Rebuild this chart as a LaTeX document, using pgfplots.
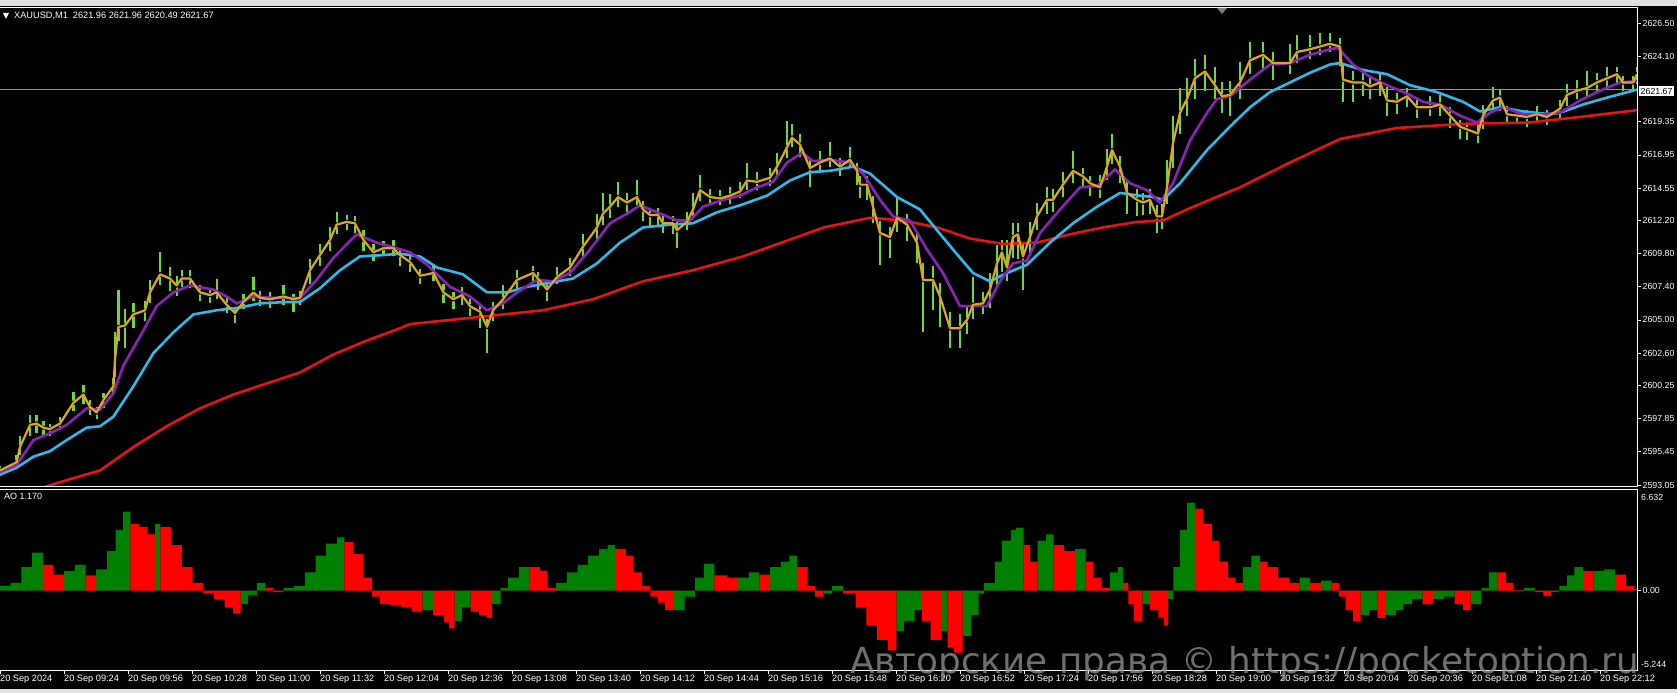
\documentclass[border=0pt]{standalone}
\usepackage{fontspec}
\setmainfont{Liberation Sans}
\newfontfamily\wmfont{DejaVu Sans}
\usepackage{pgfplots}
\usepackage{pgfplotstable}
\pgfplotsset{compat=1.18}

\definecolor{bargreen}{RGB}{110,215,60}
\definecolor{ylw}{RGB}{225,165,30}
\definecolor{vio}{RGB}{140,35,185}
\definecolor{sky}{RGB}{50,185,235}
\definecolor{rd}{RGB}{230,20,20}
\definecolor{aog}{RGB}{0,128,0}
\definecolor{aor}{RGB}{255,0,0}
\definecolor{lgray}{RGB}{225,225,225}
\definecolor{hline}{RGB}{150,150,150}
\definecolor{wmark}{RGB}{150,150,150}

% price bars: minute, close line, high offset, low offset
\pgfplotstableread{
m c u d
0 2594.1 0.3 0.4
8.3 2594.7 0.5 0.4
10 2595.8 0.8 0.6
15 2597.4 0.7 0.8
18.3 2597.5 0.6 0.7
21.7 2597.2 0.5 0.6
25 2597.1 0.4 0.5
30 2597.5 0.5 0.5
36.7 2599.0 0.8 0.6
41.7 2599.6 0.7 0.7
45 2598.7 0.5 0.6
48.3 2598.3 0.4 0.5
51.7 2599.2 0.5 0.6
56.7 2600.2 0.6 0.5
57.5 2602.1 2.0 1.2
59.2 2604.5 2.7 1.0
62.5 2604.6 1.2 1.6
66.7 2605.4 0.8 1.0
72.5 2605.7 0.7 0.8
75 2607.0 0.9 0.8
80 2608.3 1.6 0.8
85 2608.0 0.8 0.9
88.3 2607.5 0.7 0.8
90.8 2608.0 0.6 0.6
95 2608.0 0.6 0.7
100 2607.0 0.5 0.6
105 2606.8 0.4 0.6
108.3 2607.0 1.0 0.5
113.3 2606.1 0.5 0.6
117.5 2605.5 0.4 0.7
121.7 2606.3 0.6 0.5
126.7 2607.0 1.1 0.6
130 2606.6 0.5 0.6
135 2606.5 0.5 0.6
141.7 2606.7 0.8 0.6
146.7 2606.5 0.4 0.9
150 2606.6 0.5 0.5
155 2608.6 0.8 1.0
160 2609.7 0.8 0.8
165 2610.8 0.9 0.8
168.3 2611.9 0.9 0.7
173.3 2612.1 0.5 0.6
177.5 2612.0 0.5 0.7
181.7 2610.8 0.7 0.8
186.7 2609.9 0.6 0.6
191.7 2610.2 0.5 0.6
196.7 2610.2 0.6 0.6
200 2609.7 0.5 0.8
205 2609.2 0.5 0.7
210 2608.2 0.5 0.6
216.7 2608.4 0.6 0.6
221.7 2607.0 0.6 0.8
226.7 2606.5 0.5 0.7
231 2606.8 0.6 0.7
235 2606.0 0.5 0.7
240 2605.6 0.5 1.2
243.5 2604.5 0.6 1.9
246.5 2605.7 0.6 0.8
251.5 2606.5 1.0 0.7
258.5 2607.9 0.7 0.7
266.5 2608.4 0.5 0.6
269 2608.0 0.5 0.8
273.5 2607.2 0.5 0.8
278.5 2608.1 0.7 0.5
285 2608.8 0.7 0.6
291.5 2610.3 0.9 0.8
298.5 2611.7 1.0 0.9
301.5 2612.7 1.5 0.8
305 2613.2 0.9 0.8
309 2613.9 1.1 0.7
313.5 2613.5 0.7 0.7
318.5 2613.9 1.2 0.6
321.5 2613.0 0.6 0.8
325 2612.6 0.5 0.9
329 2612.6 0.5 0.7
331.5 2612.0 0.5 0.7
336.5 2612.0 0.5 0.8
338.5 2611.5 0.6 1.3
343.5 2612.1 0.7 0.6
346.5 2613.0 1.2 0.6
350 2614.4 1.1 0.8
355 2613.9 0.6 0.6
360 2613.8 0.6 0.5
365 2614.0 0.6 0.6
370 2614.3 0.7 0.5
373.5 2615.1 1.3 0.7
378.5 2615.0 0.7 0.6
385 2615.3 0.7 0.6
388.5 2616.1 1.0 0.7
393.5 2617.5 1.9 0.8
396 2618.2 1.0 0.7
400 2617.7 0.8 0.9
405 2616.0 0.6 1.4
410 2616.4 0.8 0.6
415 2616.7 1.2 0.6
420 2616.1 0.6 0.7
425 2616.6 0.9 0.6
428.5 2615.8 0.6 1.0
430 2614.8 0.6 1.0
433.5 2614.8 0.6 1.1
436.5 2613.2 0.8 1.2
440 2611.3 0.9 2.3
445 2611.0 0.7 1.5
448.5 2612.4 1.5 1.0
453.5 2611.9 0.8 1.2
458.5 2610.6 0.8 1.5
461.5 2607.9 1.2 3.8
466.5 2607.9 1.0 2.2
470 2606.7 1.0 2.2
475 2604.4 1.2 1.4
480 2604.4 1.0 1.4
483.5 2605.0 1.0 1.0
486.5 2606.1 2.0 1.0
491.5 2606.2 0.8 0.8
495 2607.2 1.2 1.3
498.5 2609.1 1.3 1.6
501 2609.9 0.9 1.4
503.5 2608.8 2.0 1.0
506.5 2611.0 1.0 1.5
509 2611.2 0.8 1.8
511.5 2609.6 1.0 2.4
515 2611.0 1.1 1.2
518.5 2612.5 1.0 1.0
523.5 2613.7 0.9 1.0
526.5 2613.7 0.8 0.9
531.5 2614.8 0.9 0.9
536.5 2615.8 1.4 0.9
541.5 2615.4 0.6 0.8
545 2614.9 0.5 0.9
550 2614.6 0.9 0.8
553.5 2616.1 1.3 1.0
556 2617.3 1.2 1.0
560 2616.1 0.8 1.2
563.5 2614.2 0.9 1.5
568.5 2613.7 0.8 1.2
571.5 2613.5 0.7 0.9
575 2613.7 0.8 1.0
578.5 2612.5 0.8 1.2
581 2612.5 0.9 0.9
583.5 2614.6 2.0 1.2
586.5 2617.8 2.0 1.8
590 2620.0 1.8 1.5
593.5 2621.0 1.5 1.2
597.5 2622.5 1.4 1.5
602.5 2623.0 1.2 1.4
607.5 2622.0 1.3 1.0
611 2621.2 1.0 1.2
615 2621.3 1.0 1.5
620 2622.2 1.5 1.2
625 2623.8 1.3 1.0
631.5 2624.2 0.9 1.0
636.5 2623.6 0.8 1.2
645 2623.6 1.4 0.8
648.5 2624.4 1.2 0.8
655 2624.6 1.0 0.7
660 2624.8 1.0 0.6
665 2625.0 0.8 0.6
670 2624.8 0.6 1.4
671.5 2622.4 1.2 1.6
676.5 2622.2 0.8 1.4
681.5 2622.2 0.7 1.0
685 2621.9 0.6 0.9
690 2622.2 0.7 1.0
693.5 2620.9 1.0 1.1
698.5 2620.8 0.6 0.9
703.5 2621.2 0.6 0.8
708.5 2620.4 0.5 0.8
715 2620.4 0.8 0.6
720 2620.6 0.7 0.8
725 2619.8 0.6 0.9
730 2619.0 0.5 0.9
733.5 2618.8 0.4 0.8
739 2618.5 0.6 0.7
741.5 2619.8 0.8 1.0
746.5 2620.9 1.0 0.8
750 2621.1 0.6 1.0
753.5 2619.9 0.6 0.7
758.5 2619.8 0.5 0.6
763.5 2619.7 0.5 0.7
768.5 2619.9 0.6 0.6
773.5 2619.7 0.5 0.6
780 2620.3 0.6 0.7
783.5 2621.3 0.8 0.8
788.5 2621.6 0.8 0.6
793.5 2621.8 1.2 0.6
798.5 2622.2 0.7 0.7
803.5 2622.5 0.8 0.7
808.5 2622.8 0.5 0.7
811.5 2622.2 0.5 0.6
816.5 2622.2 0.5 0.5
818.5 2622.8 0.5 0.7
}\bars

\pgfplotstableread{
m p
0 2594.0
8.3 2594.5
16.7 2596.3
25 2596.8
33.3 2597.4
43.3 2598.6
50 2598.5
56.7 2599.7
61.7 2601.7
70 2603.8
78.3 2606.0
86.7 2607.0
95 2607.5
106.7 2607.2
113.3 2606.7
118.3 2606.2
126.7 2606.7
136.7 2606.6
150 2606.6
158.3 2607.9
166.7 2609.5
178.3 2611.2
188.3 2610.6
198.3 2610.2
205 2609.9
213.5 2609.0
225 2607.4
235 2606.7
243.5 2605.7
251.5 2606.2
258.5 2607.0
268.5 2607.9
276.5 2607.8
285 2608.4
295 2610.1
305 2612.0
313.5 2612.7
320 2613.3
328.5 2612.8
338.5 2612.2
345 2612.2
351.5 2613.2
361.5 2613.7
370 2614.0
378.5 2614.6
386.5 2615.0
393.5 2616.4
401 2617.1
406.5 2616.5
415 2616.6
425 2616.4
431.5 2615.6
440 2613.7
446.5 2612.5
455 2612.2
463.5 2610.1
471.5 2608.4
480 2606.0
486.5 2606.0
493.5 2606.0
500 2607.8
506.5 2609.1
513.5 2609.3
520 2611.3
530 2613.0
540 2614.6
548.5 2614.7
557.5 2615.9
565 2614.9
573.5 2614.4
580 2613.5
586.5 2614.9
595 2618.0
603.5 2620.0
608.5 2621.0
615 2621.2
625 2622.4
635 2623.5
645 2623.6
655 2624.2
665 2624.6
669 2624.7
676.5 2623.5
685 2622.6
695 2621.9
703.5 2621.4
711.5 2620.8
720 2620.6
730 2619.8
738.5 2619.3
745 2620.0
751.5 2620.4
761.5 2619.9
771.5 2619.9
780 2620.0
790 2620.9
800 2621.6
810 2622.2
819 2622.3
}\viotab

\pgfplotstableread{
m p
0 2593.8
8.3 2594.3
16.7 2595.1
25 2595.5
33.3 2596.3
43.3 2597.2
50 2597.3
56.7 2598.0
66.7 2600.2
76.7 2602.6
86.7 2604.1
96.7 2605.4
108.3 2605.7
120 2605.9
130 2606.2
143.3 2606.3
150 2606.3
160 2607.3
170 2608.6
180 2609.6
191.7 2609.7
200 2609.8
210 2609.6
218.5 2608.8
231.5 2608.3
243.5 2607.0
253.5 2607.0
263.5 2607.4
275 2607.7
286.5 2608.0
298.5 2609.1
310 2610.6
321.5 2611.7
335 2611.9
346.5 2612.0
358.5 2612.8
370 2613.3
383.5 2614.0
395 2615.1
405 2615.7
415 2615.8
426.5 2616.1
435 2615.6
448.5 2613.9
460 2613.0
468.5 2611.5
476.5 2610.1
486.5 2608.4
495 2607.8
503.5 2608.4
513.5 2609.0
525 2610.6
536.5 2612.0
548.5 2613.2
560 2614.2
570 2614.0
576.5 2613.9
581.5 2613.7
590 2614.9
603.5 2617.3
615 2619.0
625 2620.4
635 2621.5
645 2622.2
655 2622.9
665 2623.5
670 2623.6
681.5 2623.1
693.5 2622.8
705 2622.0
718.5 2621.5
731.5 2620.8
740 2620.1
750 2620.4
761.5 2620.1
775 2619.9
780 2620.0
791.5 2620.6
803.5 2621.1
819 2621.7
}\skytab

\pgfplotstableread{
m p
0 2591.8
10 2592.3
20 2592.8
33.3 2593.4
50 2594.1
66.7 2595.8
83.3 2597.3
100 2598.6
116.7 2599.6
133.3 2600.4
150 2601.2
166.7 2602.5
183.3 2603.5
200 2604.4
205 2604.7
238.5 2605.2
271.5 2605.7
296.5 2606.5
321.5 2607.8
346.5 2608.6
371.5 2609.6
396.5 2610.9
412 2611.7
435 2612.4
451.5 2612.2
468.5 2611.7
485 2610.9
501.5 2610.5
518.5 2610.6
535 2611.2
551.5 2611.7
568.5 2612.1
581.5 2612.2
593.5 2613.0
606.5 2613.8
620 2614.6
645 2616.4
670 2618.1
698.5 2618.9
731.5 2619.2
765 2619.3
790 2619.7
819 2620.2
}\redtab

% Awesome oscillator: minute, value, rising flag
\pgfplotstableread{
m ao up
0 0.3 1
5.3 0.5 1
10.7 1.55 1
16.0 2.5 1
21.4 1.7 0
26.7 1.05 0
32.1 1.3 1
37.4 1.7 1
42.8 1.0 0
48.1 1.4 1
53.5 2.6 1
57.8 4.0 1
61.5 5.2 1
65.2 4.4 0
69.5 4.2 0
73.8 3.7 0
77.5 4.4 1
80.2 4.2 0
85.6 3.0 0
90.9 1.55 0
96.3 0.5 0
101.6 -0.2 0
107.0 -0.55 0
112.3 -1.1 0
116.6 -1.5 0
120.3 -0.9 1
124.1 -0.3 1
128.4 0.5 1
132.6 0.15 0
136.4 -0.1 0
141.7 0.15 1
147.1 0.3 1
152.4 1.2 1
157.8 2.3 1
163.1 3.1 1
168.5 3.5 1
172.2 3.2 0
176.5 2.4 0
181.8 0.85 0
186.1 -0.4 0
189.9 -0.9 0
195.2 -1.0 0
200.6 -1.1 0
205.9 -1.4 0
211.2 -1.3 1
216.6 -1.6 0
221.9 -2.1 0
224.6 -2.5 0
227.3 -2.0 1
231.0 -1.1 1
235.3 -1.4 0
239.6 -1.6 0
243.3 -1.8 0
246.0 -0.9 1
250.3 0.15 1
254.0 0.85 1
259.4 1.55 1
264.7 1.55 0
270.1 1.3 0
273.8 0.15 0
278.1 0.5 1
283.4 1.2 1
288.8 1.7 1
294.1 2.3 1
299.5 2.75 1
303.8 3.0 1
307.5 2.75 0
312.9 2.3 0
316.6 1.2 0
320.9 0.3 0
325.2 -0.4 0
328.9 -0.8 0
332.6 -1.3 0
336.9 -1.3 1
342.3 -0.4 1
347.6 0.85 1
351.9 1.75 1
357.2 1.0 0
363.7 0.85 0
369.0 0.85 1
374.4 1.2 1
379.7 1.05 0
385.1 1.55 1
390.4 1.9 1
394.7 2.3 1
398.4 1.55 0
403.8 0.3 0
407.5 -0.4 0
411.8 -0.2 1
416.1 0.3 1
421.4 -0.2 0
427.8 -1.1 0
433.2 -2.3 0
438.5 -3.25 0
443.9 -3.95 0
448.2 -2.7 1
451.9 -2.0 1
457.3 -1.3 1
461.0 -2.0 0
465.3 -3.25 0
470.6 -2.7 1
473.8 -3.75 0
477.0 -4.1 0
481.3 -3.0 1
485.6 -1.6 1
489.3 -0.2 1
492.0 0.5 1
497.4 1.9 1
501.1 3.3 1
505.4 4.0 1
508.1 4.15 1
511.8 3.0 0
515.0 1.9 0
518.8 3.3 1
523.0 3.7 1
526.8 3.0 0
532.1 2.6 0
537.5 2.75 1
542.8 1.9 0
546.6 0.85 0
550.8 0.15 0
555.1 1.2 1
558.9 1.55 1
561.5 0.5 0
564.2 -0.9 0
566.9 -2.0 0
571.2 -0.9 1
574.9 -1.3 0
579.2 -1.75 0
581.9 -2.3 0
584.0 -0.55 1
586.7 1.55 1
589.9 4.0 1
593.6 5.8 1
597.4 5.4 0
601.7 4.4 0
605.9 3.3 0
609.7 1.9 0
614.0 0.85 0
617.7 0.5 0
621.4 1.55 1
625.7 2.3 1
630.0 1.9 0
633.7 1.55 0
639.1 0.85 0
644.4 0.5 0
649.8 0.85 1
655.1 0.5 0
660.5 0.65 1
665.8 0.5 0
669.6 -0.4 0
672.8 -1.3 0
676.5 -2.0 0
680.3 -1.6 1
684.5 -1.3 1
688.8 -1.8 0
692.6 -1.6 1
697.9 -1.3 1
701.7 -0.9 1
705.9 -0.55 1
711.3 -0.9 0
716.6 -0.55 1
722.0 -0.4 1
727.3 -0.9 0
731.6 -1.3 0
735.3 -0.9 1
740.7 0.15 1
744.4 1.2 1
748.7 1.2 0
753.0 0.5 0
756.7 0.02 0
762.1 0.15 1
767.4 -0.1 0
771.7 -0.35 0
775.5 -0.1 1
779.7 0.3 1
783.5 1.0 1
787.2 1.55 1
791.5 1.3 0
796.8 1.3 1
802.2 1.4 1
807.5 1.05 0
812.9 0.3 0
817.2 0.1 1
818.5 0 0
}\aotab

\pgfplotsset{pricewin/.style={
  at={(0pt,206pt)}, anchor=south west,
  scale only axis, width=1637pt, height=479pt,
  xmin=0, xmax=818.5, ymin=2592.905, ymax=2627.59}}

\begin{document}
\begin{tikzpicture}
\useasboundingbox (0pt,0pt) rectangle (1677pt,693pt);
\fill[black] (0pt,0pt) rectangle (1677pt,693pt);
\fill[lgray] (0pt,687pt) rectangle (1677pt,693pt);
\fill[lgray] (0pt,0pt) rectangle (1677pt,4pt);

% price bars underneath
\begin{axis}[pricewin, hide axis]
\addplot[only marks, mark=none,
  error bars/.cd, y dir=both, y explicit, error mark=none,
  error bar style={draw=bargreen, line width=2.2pt}]
  table[x=m, y=c, y error plus=u, y error minus=d] {\bars};
\end{axis}

% price window
\begin{axis}[
  pricewin,
  axis line style={draw=none},
  xtick=\empty,
  ytick={2593.05,2595.45,2597.85,2600.25,2602.60,2605.00,2607.40,2609.80,2612.20,2614.55,2616.95,2619.35,2624.10,2626.50},
  yticklabels={2593.05,2595.45,2597.85,2600.25,2602.60,2605.00,2607.40,2609.80,2612.20,2614.55,2616.95,2619.35,2624.10,2626.50},
  ytick pos=right, yticklabel pos=right,
  scaled y ticks=false,
  tick align=outside, major tick length=4pt,
  tick style={white, line width=0.8pt},
  yticklabel style={white, font=\fontsize{8.8}{9}\selectfont, inner sep=1.5pt},
]
\addplot[hline, line width=0.8pt] coordinates {(0,2621.67) (818.5,2621.67)};
\addplot[rd, line width=2.6pt, line join=round] table[x=m, y=p] {\redtab};
\addplot[sky, line width=2.6pt, line join=round] table[x=m, y=p] {\skytab};
\addplot[vio, line width=2.6pt, line join=round] table[x=m, y=p] {\viotab};
\addplot[ylw, line width=2.2pt, line join=round] table[x=m, y=c] {\bars};
\end{axis}

% AO window
\begin{axis}[
  at={(0pt,23pt)}, anchor=south west,
  scale only axis, width=1637pt, height=180pt,
  xmin=0, xmax=818.5, ymin=-5.244, ymax=6.632,
  axis line style={draw=none},
  xtick={0,32,...,800},
  xticklabels={20 Sep 2024,20 Sep 09:24,20 Sep 09:56,20 Sep 10:28,20 Sep 11:00,20 Sep 11:32,20 Sep 12:04,20 Sep 12:36,20 Sep 13:08,20 Sep 13:40,20 Sep 14:12,20 Sep 14:44,20 Sep 15:16,20 Sep 15:48,20 Sep 16:20,20 Sep 16:52,20 Sep 17:24,20 Sep 17:56,20 Sep 18:28,20 Sep 19:00,20 Sep 19:32,20 Sep 20:04,20 Sep 20:36,20 Sep 21:08,20 Sep 21:40,20 Sep 22:12},
  xtick pos=left,
  ytick={0}, yticklabels={0.00},
  ytick pos=right, yticklabel pos=right,
  tick align=outside, major tick length=4pt,
  tick style={white, line width=0.8pt},
  xticklabel style={white, font=\fontsize{9.2}{10}\selectfont, anchor=north west, inner sep=1pt, xshift=-1pt},
  yticklabel style={white, font=\fontsize{8.8}{9}\selectfont, inner sep=1.5pt},
]
\addplot[ybar interval, fill=aog, draw=none] table[x=m, y expr=\thisrow{up}*\thisrow{ao}] {\aotab};
\addplot[ybar interval, fill=aor, draw=none] table[x=m, y expr=(1-\thisrow{up})*\thisrow{ao}] {\aotab};
\end{axis}

% frames
\draw[white, line width=1pt] (0pt,685pt) -- (1637pt,685pt) -- (1637pt,206pt);
\draw[white, line width=1pt] (0pt,206pt) -- (1638pt,206pt);
\draw[white, line width=1pt] (0pt,203pt) -- (1638pt,203pt);
\draw[white, line width=1pt] (1637pt,203pt) -- (1637pt,23pt) -- (0pt,23pt);

% texts
\fill[white] (3pt,680pt) -- (9pt,680pt) -- (6pt,674pt) -- cycle;
\node[anchor=west, white, inner sep=0pt, font=\fontsize{9.2}{10}\selectfont] at (14pt,677pt) {XAUUSD,M1\ \ 2621.96 2621.96 2620.49 2621.67};
\node[anchor=west, white, inner sep=0pt, font=\fontsize{9}{10}\selectfont] at (4pt,197pt) {AO 1.170};
\fill[gray] (1217pt,685pt) -- (1227pt,685pt) -- (1222pt,679pt) -- cycle;
\node[anchor=west, fill=white, text=black, inner sep=1.5pt, font=\fontsize{8.8}{9}\selectfont] at (1639pt,602pt) {2621.67};
\node[anchor=west, white, inner sep=1pt, font=\fontsize{8.8}{9}\selectfont] at (1640pt,196pt) {6.632};
\node[anchor=west, white, inner sep=1pt, font=\fontsize{8.8}{9}\selectfont] at (1640pt,29pt) {-5.244};
\node[anchor=base west, text=wmark, opacity=0.75, inner sep=0pt, font=\wmfont\fontsize{35.8}{40}\selectfont] at (850pt,20pt) {Авторские права © https://pocketoption.ru};
\end{tikzpicture}
\end{document}
